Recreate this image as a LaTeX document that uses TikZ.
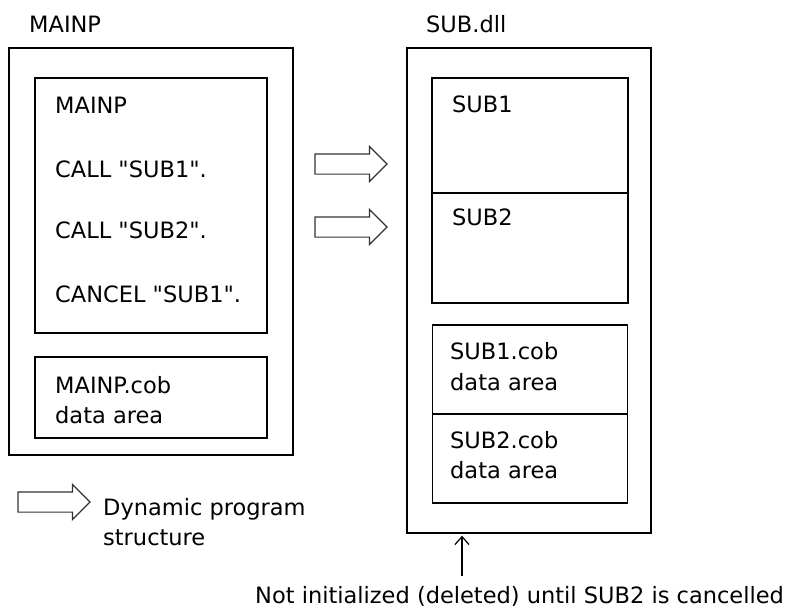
\documentclass[tikz,border=0pt]{standalone}
\usepackage{fontspec}
\setmainfont{DejaVu Sans}
\usetikzlibrary{positioning,arrows.meta,shapes.arrows}
\newcommand{\quoted}[1]{\textquotedbl#1\textquotedbl}
\tikzset{
  outerbox/.style={draw,line width=1.3pt,inner sep=0pt},
  innerbox/.style={draw,line width=1.1pt,inner sep=0pt},
  txt/.style={anchor=base west,inner sep=0pt,font=\fontsize{22.5}{30}\selectfont},
  blockarrow/.style={single arrow,draw=black!80,line width=1.2pt,inner sep=0pt,minimum height=72pt,
    single arrow head extend=7.5pt,single arrow head indent=0pt,text height=19pt},
  upar/.style={-{Straight Barb[length=8pt,width=14pt]},line width=1.2pt}}
\begin{document}
\begin{tikzpicture}[x=1pt,y=-1pt]
\useasboundingbox (0,0) rectangle (789,608);
% MAINP side
\node[txt] (mtitle) at (29,32) {MAINP};
\node[outerbox,minimum width=284pt,minimum height=407pt] (mainp) at (151,251.5) {};
\node[innerbox,minimum width=232pt,minimum height=255pt] (mcode) at (151,205.5) {};
\node[innerbox,minimum width=232pt,minimum height=81pt] (mdata) at (151,397.5) {};
\node[txt] (m1) at (55,113) {MAINP};
\node[txt] (m2) at (55,177) {CALL \quoted{SUB1}.};
\node[txt] (m3) at (55,238) {CALL \quoted{SUB2}.};
\node[txt] (m4) at (55,302) {CANCEL \quoted{SUB1}.};
\node[txt] (md1) at (55,393) {MAINP.cob};
\node[txt] (md2) at (55,423) {data area};
% SUB.dll side
\node[txt] (stitle) at (426,32) {SUB.dll};
\node[outerbox,minimum width=244pt,minimum height=485pt] (subdll) at (529,290.5) {};
\node[innerbox,minimum width=196pt,minimum height=115pt] (sub1) at (530,135.5) {};
\node[innerbox,minimum width=196pt,minimum height=110pt] (sub2) at (530,248) {};
\node[innerbox,minimum width=195pt,minimum height=89pt] (sub1d) at (530,369.5) {};
\node[innerbox,minimum width=195pt,minimum height=89pt] (sub2d) at (530,458.5) {};
\node[txt] (s1) at (452,112) {SUB1};
\node[txt] (s2) at (452,225) {SUB2};
\node[txt] (s1d1) at (450,359) {SUB1.cob};
\node[txt] (s1d2) at (450,390) {data area};
\node[txt] (s2d1) at (450,448) {SUB2.cob};
\node[txt] (s2d2) at (450,478) {data area};
% calls
\node[blockarrow] (call1) at (346,164) {};
\node[blockarrow] (call2) at (346,227) {};
% legend
\node[blockarrow] (legarrow) at (49,502) {};
\node[txt] (leg1) at (103,515) {Dynamic program};
\node[txt] (leg2) at (103,545) {structure};
% note
\node[txt] (note) at (255,603) {Not initialized (deleted) until SUB2 is cancelled};
\coordinate (notetop) at (462,576);
\draw[upar,shorten >=2pt] (notetop) -- (notetop |- subdll.south);
\end{tikzpicture}
\end{document}
